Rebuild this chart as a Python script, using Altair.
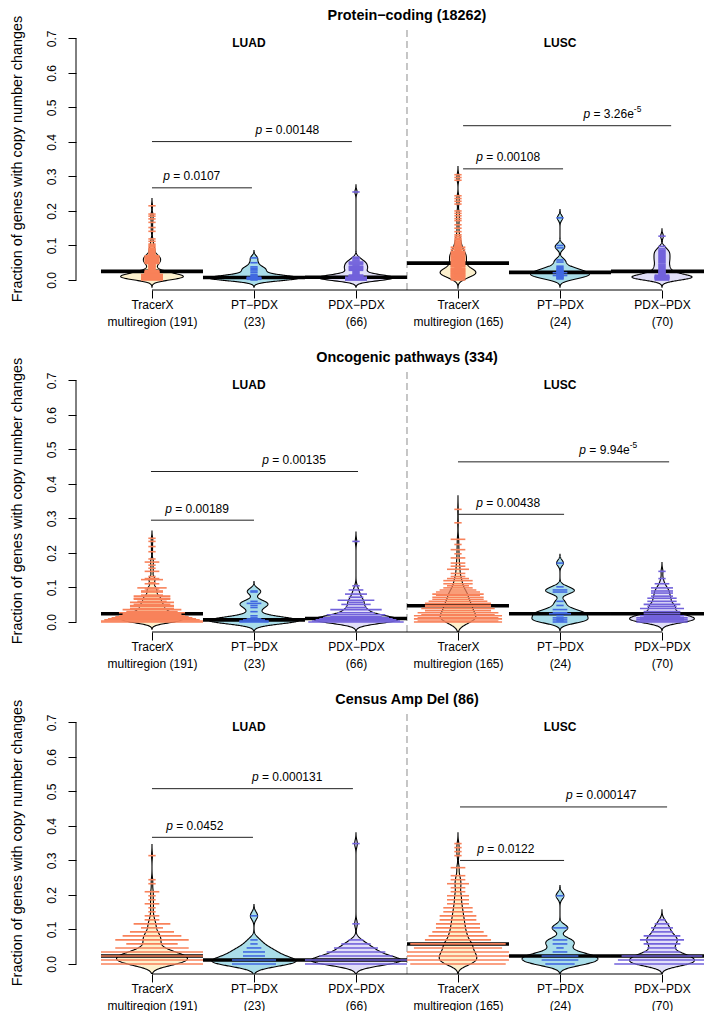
import altair as alt
import numpy as np
import pandas as pd

FONT = "Liberation Sans"

# ---------------- categories / labels ----------------
GROUPS = ["TracerX", "PT-PDX", "PDX-PDX"]
BEAN_GROUP = ["TracerX", "PT-PDX", "PDX-PDX", "TracerX", "PT-PDX", "PDX-PDX"]
BEAN_POS = [1, 2, 3, 4, 5, 6]
X_LABELS = ["TracerX|multiregion (191)", "PT−PDX|(23)", "PDX−PDX|(66)",
            "TracerX|multiregion (165)", "PT−PDX|(24)", "PDX−PDX|(70)"]
SUBTYPES = ["LUAD", "LUSC"]
SUBTYPE_X = [1.95, 5.0]
SUBTYPE_Y = 0.688
PANEL_TITLES = ["Protein−coding (18262)", "Oncogenic pathways (334)", "Census Amp Del (86)"]
GENE_DENOM = [1, 334, 86]
Y_TICKS = [0.0, 0.1, 0.2, 0.3, 0.4, 0.5, 0.6, 0.7]
Y_TITLE = "Fraction of genes with copy number changes"

# ---------------- panel 1: protein-coding (value, number of samples) ----------------
P1_LUAD_TRX = [(0.000, 3), (0.002, 2), (0.0025, 3), (0.003, 3), (0.004, 3), (0.0045, 3), (0.005, 3),
               (0.006, 3), (0.0065, 3), (0.007, 3), (0.008, 3), (0.0085, 3), (0.009, 3), (0.010, 3),
               (0.0105, 3), (0.011, 3), (0.012, 3), (0.0125, 3), (0.013, 3), (0.014, 2), (0.0145, 3),
               (0.015, 3), (0.016, 3), (0.017, 2), (0.018, 2), (0.019, 2), (0.020, 2), (0.021, 2),
               (0.022, 2), (0.023, 2), (0.024, 2), (0.025, 2), (0.026, 1), (0.027, 2), (0.029, 1),
               (0.031, 1), (0.033, 1), (0.036, 1), (0.038, 1), (0.040, 1), (0.042, 1), (0.044, 1),
               (0.046, 1), (0.048, 2), (0.050, 2), (0.052, 2), (0.054, 2), (0.056, 2), (0.058, 2),
               (0.060, 2), (0.062, 2), (0.064, 2), (0.066, 2), (0.068, 2), (0.070, 2), (0.072, 1),
               (0.074, 1), (0.077, 1), (0.080, 1), (0.083, 1), (0.086, 1), (0.089, 1), (0.092, 1),
               (0.096, 1), (0.100, 1), (0.104, 1), (0.112, 1), (0.119, 1), (0.141, 1), (0.152, 1),
               (0.167, 1), (0.177, 1), (0.185, 1), (0.191, 1), (0.215, 1)]
P1_LUAD_PT = [(0.000, 1), (0.002, 2), (0.003, 1), (0.004, 2), (0.005, 2), (0.006, 2), (0.007, 1),
              (0.008, 2), (0.010, 1), (0.012, 1), (0.015, 1), (0.021, 1), (0.026, 1), (0.030, 1),
              (0.034, 1), (0.038, 1), (0.050, 1), (0.064, 1)]
P1_LUAD_PDX = [(0.000, 3), (0.001, 3), (0.002, 3), (0.003, 3), (0.004, 3), (0.005, 3), (0.006, 3),
               (0.007, 3), (0.008, 3), (0.009, 2), (0.010, 2), (0.011, 2), (0.012, 2), (0.013, 2),
               (0.014, 2), (0.015, 1), (0.016, 1), (0.019, 1), (0.022, 1), (0.025, 1), (0.028, 2),
               (0.031, 2), (0.034, 2), (0.037, 2), (0.040, 2), (0.043, 1), (0.046, 2), (0.049, 2),
               (0.052, 2), (0.055, 1), (0.058, 1), (0.062, 1), (0.066, 1), (0.255, 1)]
P1_LUSC_TRX = [(0.000, 2), (0.002, 1), (0.004, 2), (0.006, 1), (0.008, 2), (0.010, 2), (0.0115, 1),
               (0.012, 2), (0.013, 1), (0.0135, 1), (0.014, 2), (0.015, 1), (0.0155, 1), (0.016, 2),
               (0.017, 1), (0.0175, 1), (0.018, 2), (0.019, 1), (0.0195, 1), (0.020, 2), (0.021, 1),
               (0.0215, 1), (0.022, 2), (0.023, 1), (0.0235, 1), (0.024, 2), (0.025, 1), (0.0255, 1),
               (0.026, 2), (0.027, 1), (0.0275, 1), (0.028, 2), (0.029, 1), (0.0295, 1), (0.030, 2),
               (0.031, 1), (0.032, 2), (0.033, 1), (0.034, 2), (0.036, 1), (0.038, 2), (0.040, 2),
               (0.042, 2), (0.044, 2), (0.046, 1), (0.048, 2), (0.050, 2), (0.052, 1), (0.054, 2),
               (0.056, 2), (0.058, 1), (0.060, 2), (0.062, 2), (0.064, 1), (0.066, 2), (0.068, 2),
               (0.070, 2), (0.072, 1), (0.074, 2), (0.076, 2), (0.078, 1), (0.080, 2), (0.083, 2),
               (0.086, 1), (0.089, 2), (0.092, 1), (0.095, 2), (0.098, 1), (0.101, 1), (0.104, 1),
               (0.107, 1), (0.110, 1), (0.113, 1), (0.117, 1), (0.121, 1), (0.126, 1), (0.131, 1),
               (0.140, 1), (0.150, 1), (0.160, 1), (0.172, 1), (0.178, 1), (0.186, 1), (0.193, 1),
               (0.200, 1), (0.220, 1), (0.228, 1), (0.236, 1), (0.244, 1), (0.289, 1), (0.297, 1),
               (0.305, 1)]
P1_LUSC_PT = [(0.003, 1), (0.005, 1), (0.007, 1), (0.009, 1), (0.011, 1), (0.013, 2), (0.015, 1),
              (0.017, 1), (0.019, 1), (0.021, 2), (0.023, 1), (0.025, 1), (0.027, 1), (0.030, 1),
              (0.033, 1), (0.036, 1), (0.040, 1), (0.052, 1), (0.058, 1), (0.093, 1), (0.100, 1),
              (0.180, 1)]
P1_LUSC_PDX = [(0.000, 2), (0.002, 2), (0.004, 2), (0.005, 2), (0.006, 2), (0.007, 2), (0.008, 2),
               (0.009, 2), (0.010, 2), (0.011, 1), (0.012, 2), (0.013, 1), (0.014, 2), (0.016, 1),
               (0.018, 1), (0.020, 1), (0.022, 1), (0.024, 1), (0.026, 1), (0.028, 1), (0.031, 1),
               (0.034, 1), (0.037, 1), (0.040, 1), (0.043, 1), (0.046, 1), (0.050, 1), (0.053, 1),
               (0.056, 1), (0.059, 1), (0.062, 1), (0.065, 1), (0.068, 1), (0.071, 1), (0.074, 1),
               (0.077, 1), (0.080, 1), (0.083, 1), (0.086, 1), (0.090, 1), (0.097, 1), (0.127, 1)]

# ---------------- panel 2: oncogenic pathways (genes changed of 334, samples) ----------------
P2_LUAD_TRX = [(0, 14), (1, 14), (2, 13), (3, 12), (4, 11), (5, 10), (6, 9), (7, 8), (8, 8), (9, 9),
               (10, 7), (12, 8), (13, 6), (15, 6), (16, 6), (17, 5), (19, 6), (20, 4), (22, 5),
               (23, 5), (25, 5), (26, 3), (29, 3), (30, 3), (32, 2), (33, 4), (37, 2), (38, 1),
               (41, 3), (42, 2), (44, 1), (49, 2), (52, 1), (55, 1), (58, 2), (61, 1), (68, 1),
               (73, 1), (78, 1), (81, 1)]
P2_LUAD_PT = [(0, 4), (1, 4), (2, 3), (3, 2), (4, 1), (6, 1), (10, 1), (14, 1), (16, 1), (18, 2),
              (20, 1), (29, 1), (30, 1)]
P2_LUAD_PDX = [(0, 13), (1, 12), (2, 11), (3, 10), (4, 9), (5, 7), (7, 8), (9, 5), (12, 7), (14, 3),
               (17, 4), (19, 2), (21, 5), (24, 2), (27, 3), (31, 2), (35, 1), (78, 1)]
P2_LUSC_TRX = [(0, 12), (1, 11), (3, 12), (4, 11), (6, 12), (7, 10), (9, 11), (11, 9), (13, 10),
               (15, 9), (16, 9), (18, 9), (20, 8), (22, 7), (24, 7), (26, 6), (27, 7), (29, 6),
               (31, 5), (33, 4), (35, 3), (37, 4), (40, 4), (42, 3), (44, 2), (47, 2), (51, 3),
               (54, 2), (57, 2), (62, 2), (66, 1), (70, 2), (75, 1), (80, 2), (96, 1), (109, 1)]
P2_LUSC_PT = [(0, 2), (1, 1), (2, 2), (3, 1), (4, 2), (6, 1), (8, 3), (9, 2), (12, 2), (16, 1),
              (20, 1), (29, 2), (31, 2), (34, 1), (57, 1)]
P2_LUSC_PDX = [(0, 7), (1, 6), (2, 7), (3, 6), (4, 7), (5, 5), (6, 6), (8, 5), (10, 5), (13, 6),
               (15, 4), (17, 5), (20, 4), (23, 4), (25, 3), (28, 3), (30, 3), (33, 3), (37, 2),
               (42, 1), (49, 1)]

# ---------------- panel 3: census amp/del (genes changed of 86, samples) ----------------
P3_LUAD_TRX = [(0, 30), (1, 38), (2, 37), (3, 22), (4, 10), (5, 7), (6, 10), (7, 8), (8, 6), (9, 3),
               (10, 5), (11, 2), (12, 2), (13, 1), (14, 1), (15, 2), (16, 1), (17, 1), (18, 2),
               (20, 1), (21, 1), (27, 1)]
P3_LUAD_PT = [(0, 6), (1, 6), (2, 3), (3, 3), (4, 2), (5, 1), (6, 1), (12, 1)]
P3_LUAD_PDX = [(0, 14), (1, 20), (2, 10), (3, 8), (4, 6), (5, 4), (6, 2), (10, 1), (30, 1)]
P3_LUSC_TRX = [(0, 13), (1, 17), (2, 16), (3, 14), (4, 12), (5, 13), (6, 9), (7, 8), (8, 7), (9, 6),
               (10, 6), (11, 5), (12, 5), (13, 4), (14, 4), (15, 3), (16, 3), (17, 3), (18, 2),
               (19, 2), (20, 3), (21, 2), (22, 2), (24, 2), (27, 1), (28, 1), (29, 1), (30, 1)]
P3_LUSC_PT = [(0, 4), (1, 5), (2, 5), (3, 2), (4, 1), (5, 2), (6, 2), (9, 2), (17, 1)]
P3_LUSC_PDX = [(0, 13), (1, 12), (2, 11), (3, 5), (4, 4), (5, 5), (6, 6), (7, 5), (8, 3), (9, 3),
               (10, 2), (11, 1)]

BEANS = [
    [P1_LUAD_TRX, P1_LUAD_PT, P1_LUAD_PDX, P1_LUSC_TRX, P1_LUSC_PT, P1_LUSC_PDX],
    [P2_LUAD_TRX, P2_LUAD_PT, P2_LUAD_PDX, P2_LUSC_TRX, P2_LUSC_PT, P2_LUSC_PDX],
    [P3_LUAD_TRX, P3_LUAD_PT, P3_LUAD_PDX, P3_LUSC_TRX, P3_LUSC_PT, P3_LUSC_PDX],
]

# bean medians (thick black lines)
MED_P1 = [0.025, 0.007, 0.008, 0.049, 0.022, 0.025]
MED_P2 = [0.024, 0.006, 0.010, 0.047, 0.024, 0.024]
MED_P3 = [0.0233, 0.0116, 0.0116, 0.0581, 0.0233, 0.0233]
MEDIANS = [MED_P1, MED_P2, MED_P3]

# kernel bandwidths of the bean outlines
BW_P1 = [0.007, 0.007, 0.007, 0.008, 0.008, 0.007]
BW_P2 = [0.007, 0.009, 0.009, 0.013, 0.0085, 0.0085]
BW_P3 = [0.0107, 0.011, 0.0104, 0.0104, 0.0098, 0.0097]
BANDWIDTHS = [BW_P1, BW_P2, BW_P3]

# p-value brackets: (p text, exponent, from, to, bracket height, text left)
PV_P1 = [("0.0107", "", 1.00, 1.98, 0.267, 1.11), ("0.00148", "", 1.00, 2.96, 0.401, 2.015),
         ("0.00108", "", 4.05, 5.03, 0.322, 4.18), ("3.26e", "-5", 4.05, 6.09, 0.447, 5.23)]
PV_P2 = [("0.00189", "", 0.99, 2.00, 0.295, 1.13), ("0.00135", "", 0.99, 3.02, 0.436, 2.08),
         ("0.00438", "", 4.00, 5.04, 0.312, 4.18), ("9.94e", "-5", 4.00, 6.07, 0.464, 5.19)]
PV_P3 = [("0.0452", "", 1.00, 1.99, 0.367, 1.14), ("0.000131", "", 1.00, 2.97, 0.508, 1.98),
         ("0.0122", "", 4.02, 5.04, 0.300, 4.19), ("0.000147", "", 4.02, 6.05, 0.455, 5.06)]
PVALS = [PV_P1, PV_P2, PV_P3]

# ---------------- style ----------------
FILL_COLORS = {"TracerX": "#FCF0CD", "PT-PDX": "#A9DDE9", "PDX-PDX": "#E1DFF8"}
LINE_COLORS = ["#F8825A", "#4169E1", "#7262DB"]
PX_PER_UNIT = 102.0
W = 628
H = 263
XMIN = 0.255
XMAX = XMIN + W / PX_PER_UNIT
YMIN, YMAX = -0.029, 0.733
HALF_MAX = 0.44      # widest bean half-width
L1 = 0.072           # beanline length per sample
CAP = 0.5
SEP_X = (BEAN_POS[2] + BEAN_POS[3]) / 2

XS = alt.Scale(domain=[XMIN, XMAX], nice=False, zero=False)
YS = alt.Scale(domain=[YMIN, YMAX], nice=False, zero=False)

label_arr = "[''," + ",".join("'" + s + "'" for s in X_LABELS) + "]"
X_AXIS = alt.Axis(values=BEAN_POS, labelExpr="split(" + label_arr + "[datum.value], '|')",
                  domain=False, grid=False, tickSize=8, tickColor="black", tickWidth=1,
                  labelFont=FONT, labelFontSize=12, labelColor="black", labelPadding=1,
                  labelLineHeight=17, labelOverlap=False, labelFlush=False, title=None)
Y_AXIS = alt.Axis(values=Y_TICKS, format=".1f", domain=False, grid=False, tickSize=8,
                  tickColor="black", tickWidth=1, labelAngle=270, labelAlign="center",
                  labelBaseline="bottom", labelPadding=10, labelFont=FONT, labelFontSize=12,
                  labelColor="black", labelFlush=False, labelOverlap=False,
                  title=Y_TITLE, titleFont=FONT, titleFontSize=14.4, titleFontWeight="normal",
                  titleColor="black", titlePadding=21)


def X(field):
    return alt.X(field, scale=XS, axis=X_AXIS)


def Y(field):
    return alt.Y(field, scale=YS, axis=Y_AXIS)


def kde_peak(vals, bw, lo, hi):
    g = np.linspace(lo, hi, 800)
    d = np.exp(-0.5 * ((g[:, None] - vals[None, :]) / bw) ** 2).sum(1)
    return (d / (len(vals) * bw * np.sqrt(2 * np.pi))).max()


def build_panel(p):
    denom = GENE_DENOM[p]
    dens_rows, line_rows, extents = [], [], []
    peak = 0.0
    for b, pairs in enumerate(BEANS[p]):
        vals = []
        for val, cnt in pairs:
            v = val / denom
            line_rows.append({"pos": BEAN_POS[b], "v": v, "c": cnt, "grp": BEAN_GROUP[b]})
            vals += [v] * cnt
        vals = np.array(vals)
        bw = BANDWIDTHS[p][b]
        lo, hi = float(vals.min() - 3 * bw), float(vals.max() + 3 * bw)
        extents.append((lo, hi))
        peak = max(peak, kde_peak(vals, bw, lo, hi))
        dens_rows += [{"bean": b, "v": float(x)} for x in vals]
    K = HALF_MAX / peak
    dens_df = pd.DataFrame(dens_rows)
    lines_df = pd.DataFrame(line_rows)

    layers = []
    # y axis line (carries both axes)
    layers.append(alt.Chart(pd.DataFrame({"x": [XMIN], "y0": [Y_TICKS[0]], "y1": [Y_TICKS[-1]]}))
                  .mark_rule(color="black", strokeWidth=1).encode(
        x=X("x:Q"), y=Y("y0:Q"), y2="y1:Q"))
    # separator
    layers.append(alt.Chart(pd.DataFrame({"x": [SEP_X], "y0": [YMIN], "y1": [YMAX]})).mark_rule(
        color="#A8A8A8", strokeDash=[7, 4], strokeWidth=1.3).encode(
        x=X("x:Q"), y=Y("y0:Q"), y2="y1:Q"))
    # x axis line
    layers.append(alt.Chart(pd.DataFrame({"x0": [BEAN_POS[0]], "x1": [BEAN_POS[-1]], "y": [YMIN]}))
                  .mark_rule(color="black", strokeWidth=1).encode(
        x=X("x0:Q"), x2="x1:Q", y=Y("y:Q")))
    # bean outlines
    for b in range(6):
        lo, hi = extents[b]
        pos = BEAN_POS[b]
        layers.append(
            alt.Chart(dens_df).transform_filter(alt.datum.bean == b)
            .transform_density("v", as_=["v", "d"], bandwidth=BANDWIDTHS[p][b],
                               extent=[lo, hi], steps=320)
            .transform_calculate(xl=f"{pos} - datum.d * {K}", xr=f"{pos} + datum.d * {K}")
            .mark_area(orient="horizontal", fill=FILL_COLORS[BEAN_GROUP[b]], opacity=1,
                       stroke="black", strokeWidth=1.1, clip=True)
            .encode(y=Y("v:Q"), x=X("xl:Q"), x2="xr:Q"))
    # medians
    med_df = pd.DataFrame({"pos": BEAN_POS, "m": MEDIANS[p]})
    layers.append(alt.Chart(med_df).transform_calculate(
        a="datum.pos - 0.5", z="datum.pos + 0.5").mark_rule(
        color="black", strokeWidth=3.6, clip=True).encode(
        x=X("a:Q"), x2="z:Q", y=Y("m:Q")))
    # beanlines
    layers.append(alt.Chart(lines_df).transform_calculate(
        h=f"min({CAP}, datum.c * {L1 / 2})", a="datum.pos - datum.h", z="datum.pos + datum.h")
        .mark_rule(strokeWidth=1.6, clip=True).encode(
        x=X("a:Q"), x2="z:Q", y=Y("v:Q"),
        color=alt.Color("grp:N", scale=alt.Scale(domain=GROUPS, range=LINE_COLORS), legend=None)))
    # p-value brackets
    pv_df = pd.DataFrame([{"rest": "= " + t, "exp": e, "x1": a, "x2": z, "y": y, "tx": tx, "p": "p"}
                          for (t, e, a, z, y, tx) in PVALS[p]])
    layers.append(alt.Chart(pv_df).mark_rule(color="#222222", strokeWidth=1).encode(
        x=X("x1:Q"), x2="x2:Q", y=Y("y:Q")))
    layers.append(alt.Chart(pv_df).mark_text(
        align="left", baseline="middle", dy=-11.5, font=FONT, fontSize=12, fontStyle="italic",
        color="black").encode(x=X("tx:Q"), y=Y("y:Q"), text="p:N"))
    layers.append(alt.Chart(pv_df).mark_text(
        align="left", baseline="middle", dx=10, dy=-11.5, font=FONT, fontSize=12,
        color="black").encode(x=X("tx:Q"), y=Y("y:Q"), text="rest:N"))
    layers.append(alt.Chart(pv_df).transform_filter("datum.exp != ''").mark_text(
        align="left", baseline="middle", dx=50.4, dy=-16.5, font=FONT, fontSize=8.4,
        color="black").encode(x=X("tx:Q"), y=Y("y:Q"), text="exp:N"))
    # subtype labels
    layers.append(alt.Chart(pd.DataFrame({"x": SUBTYPE_X, "t": SUBTYPES, "y": [SUBTYPE_Y] * 2}))
                  .mark_text(font=FONT, fontSize=12, fontWeight="bold", baseline="middle",
                             align="center", color="black").encode(
        x=X("x:Q"), y=Y("y:Q"), text="t:N"))
    # panel title
    layers.append(alt.Chart(pd.DataFrame({"x": [SEP_X], "t": [PANEL_TITLES[p]]}))
                  .mark_text(font=FONT, fontSize=14.4, fontWeight="bold", baseline="middle",
                             align="center", color="black").encode(
        x=X("x:Q"), y=alt.value(-11), text="t:N"))
    return alt.layer(*layers).properties(width=W, height=H)


chart = alt.vconcat(*[build_panel(p) for p in range(3)], spacing=23).properties(
    padding=0).configure_view(stroke=None)

chart.save("out.html", embed_options={"renderer": "svg", "actions": False})
